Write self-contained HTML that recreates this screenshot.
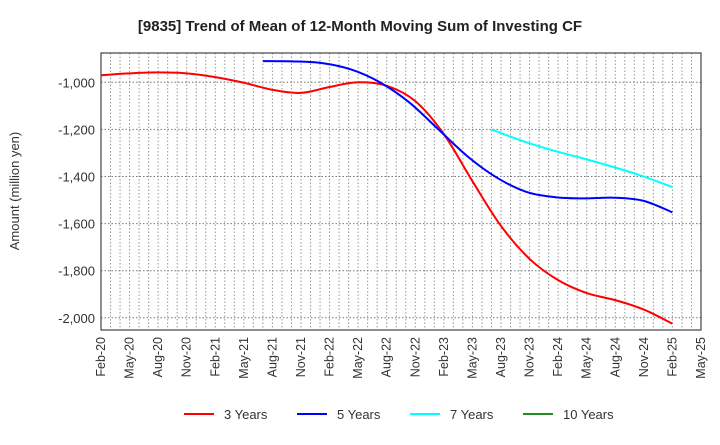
<!DOCTYPE html>
<html><head><meta charset="utf-8"><style>
body{margin:0;background:#fff;font-family:"Liberation Sans",sans-serif}
svg text{font-family:"Liberation Sans",sans-serif}
</style></head><body>
<svg id="c" width="720" height="440">
<text x="360" y="31" text-anchor="middle" font-size="15" font-weight="bold" fill="#222">[9835]  Trend of Mean of 12-Month Moving Sum of Investing CF</text>
<text transform="translate(19,191) rotate(-90)" text-anchor="middle" font-size="13" fill="#333">Amount (million yen)</text>
<g id="grid"></g><g id="series"></g><g id="axes"></g><g id="legend"></g>
</svg>
<script>
const xLabels=["Feb-20","May-20","Aug-20","Nov-20","Feb-21","May-21","Aug-21","Nov-21","Feb-22","May-22","Aug-22","Nov-22","Feb-23","May-23","Aug-23","Nov-23","Feb-24","May-24","Aug-24","Nov-24","Feb-25","May-25"];
const yTicks=[-1000,-1200,-1400,-1600,-1800,-2000];
const s3=[-970,-962,-958,-962,-978,-1002,-1032,-1045,-1020,-1000,-1015,-1080,-1220,-1420,-1610,-1750,-1840,-1895,-1925,-1965,-2025];
const s3Start=0, s3End=60;
const s5=[-910,-911,-918,-945,-1000,-1085,-1200,-1315,-1405,-1465,-1488,-1493,-1490,-1503,-1552];
const s5Start=17, s5End=60;
const s7=[-1200,-1248,-1288,-1322,-1358,-1398,-1445];
const s7Start=41, s7End=60;
const s10=[];
const s10Start=60, s10End=60;
const legendNames=["3 Years","5 Years","7 Years","10 Years"];
const colors=["#ff0000","#0000ff","#00ffff","#228b22"];
const L=101,R=701,T=53,B=330;
const xm=m=>L+m*(R-L)/63;
const y=v=>82.3+(-1000-v)*47.1/200;
const ns="http://www.w3.org/2000/svg";
function mk(t,a,p){const e=document.createElementNS(ns,t);for(const k in a)e.setAttribute(k,a[k]);p.appendChild(e);return e;}
const g=document.getElementById('grid');
for(let m=1;m<63;m++){const e=mk('line',{x1:xm(m),x2:xm(m),y1:T,y2:B,stroke:'#999','stroke-dasharray':'1.5,2','stroke-width':1},g);

}
const ax=document.getElementById('axes');
yTicks.forEach(v=>{const e=mk('line',{x1:L,x2:R,y1:y(v),y2:y(v),stroke:'#777','stroke-dasharray':'1.5,2'},g);


const t=mk('text',{x:L-6,y:y(v)+5,'text-anchor':'end','font-size':13,fill:'#333'},ax);t.textContent=v.toLocaleString('en-US');

});
xLabels.forEach((lb,i)=>{const t=mk('text',{transform:`translate(${xm(i*3)+4},337) rotate(-90)`,'text-anchor':'end','font-size':12.5,fill:'#333'},ax);t.textContent=lb;

});
const fr=mk('rect',{x:L,y:T,width:R-L,height:B-T,fill:'none',stroke:'#444','stroke-width':1.2},ax);


function path(vals,s,e){if(vals.length<2)return '';const st=(e-s)/(vals.length-1);const p=vals.map((v,i)=>[xm(s+i*st),y(v)]);let d=`M${p[0][0]},${p[0][1]}`;
for(let i=0;i<p.length-1;i++){const p0=p[i-1]||p[i],p1=p[i],p2=p[i+1],p3=p[i+2]||p2;
d+=` C${p1[0]+(p2[0]-p0[0])/6},${p1[1]+(p2[1]-p0[1])/6} ${p2[0]-(p3[0]-p1[0])/6},${p2[1]-(p3[1]-p1[1])/6} ${p2[0]},${p2[1]}`;}return d;}
const sg=document.getElementById('series');
[[s3,s3Start,s3End],[s5,s5Start,s5End],[s7,s7Start,s7End],[s10,s10Start,s10End]].forEach(([v,s,en],i)=>{const d=path(v,s,en);if(!d)return;
const e=mk('path',{d:d,fill:'none',stroke:colors[i],'stroke-width':2},sg);

});
const lg=document.getElementById('legend');
legendNames.forEach((n,i)=>{const x0=184+i*113;
const l=mk('line',{x1:x0,x2:x0+30,y1:414,y2:414,stroke:colors[i],'stroke-width':2},lg);


const t=mk('text',{x:x0+40,y:419,'font-size':13,fill:'#333'},lg);t.textContent=n;

});
</script>
</body></html>
